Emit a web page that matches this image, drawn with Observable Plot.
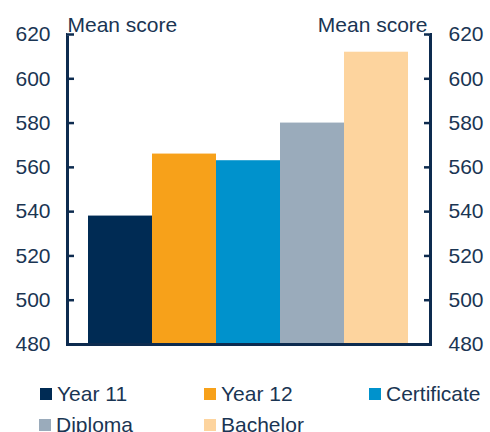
<!DOCTYPE html>
<html>
<head>
<meta charset="utf-8">
<script src="https://cdn.jsdelivr.net/npm/d3@7"></script>
<script src="https://cdn.jsdelivr.net/npm/@observablehq/plot@0.6"></script>
<style>
  body { margin: 0; background: #fff; }
  #wrap { position: relative; width: 490px; height: 432px; overflow: hidden; font-family: "Liberation Sans", Arial, sans-serif; color: #1a3553; }
  .leg { position: absolute; display: flex; align-items: center; font-size: 21px; line-height: 24px; white-space: nowrap; }
  .sw { width: 12px; height: 12px; margin-right: 5px; }
</style>
</head>
<body>
<div id="wrap"></div>
<script>
const categories = ["Year 11", "Year 12", "Certificate", "Diploma", "Bachelor"];
const values = [538, 566, 563, 580, 612];
const colors = ["#002b54", "#f7a11a", "#0092cc", "#9aabbb", "#fdd49e"];
const yTicks = [480, 500, 520, 540, 560, 580, 600, 620];
const axisTitle = "Mean score";

const data = categories.map((c, i) => ({cat: c, value: values[i]}));
const axisColor = "#0d2b4f";
const textColor = "#1a3553";
const yMin = yTicks[0], yMax = yTicks[yTicks.length - 1];

const chart = Plot.plot({
  width: 490,
  height: 360,
  marginLeft: 67,
  marginRight: 60,
  marginTop: 34,
  marginBottom: 16,
  style: {fontFamily: "'Liberation Sans', Arial, sans-serif", fontSize: "21px", color: textColor, background: "#fff"},
  x: {domain: categories, padding: 0, insetLeft: 21, insetRight: 22, axis: null},
  y: {domain: [yMin, yMax], axis: null},
  color: {domain: categories, range: colors},
  marks: [
    Plot.barY(data, {x: "cat", y1: () => yMin, y2: "value", fill: "cat"}),
    Plot.frame({stroke: axisColor, strokeWidth: 3}),
    Plot.ruleY([yMax], {stroke: "#fff", strokeWidth: 4, insetLeft: 2, insetRight: 2}),
    Plot.ruleY([yMax], {stroke: "#fff", strokeWidth: 4, dy: -1}),
    Plot.axisY(yTicks, {anchor: "left", tickSize: -7, tickFormat: () => "", label: null, stroke: axisColor, strokeWidth: 2.5}),
    Plot.axisY(yTicks, {anchor: "right", tickSize: -7, tickFormat: () => "", label: null, stroke: axisColor, strokeWidth: 2.5}),
    Plot.axisY(yTicks, {anchor: "left", tickSize: 0, tickPadding: 17, fontSize: 21, fill: textColor, label: null}),
    Plot.axisY(yTicks, {anchor: "right", tickSize: 0, tickPadding: 18, fontSize: 21, fill: textColor, label: null}),
    Plot.text([axisTitle], {frameAnchor: "top-left", textAnchor: "start", lineAnchor: "bottom", dy: -3, fontSize: 21, fill: textColor}),
    Plot.text([axisTitle], {frameAnchor: "top-right", textAnchor: "end", lineAnchor: "bottom", dx: -3, dy: -3, fontSize: 21, fill: textColor})
  ]
});
const wrap = document.getElementById("wrap");
wrap.appendChild(chart);

const legPos = [[40, 382], [204, 382], [369, 382], [39, 413], [204, 413]];
categories.forEach((c, i) => {
  const d = document.createElement("div");
  d.className = "leg";
  d.style.left = legPos[i][0] + "px";
  d.style.top = legPos[i][1] + "px";
  d.innerHTML = `<div class="sw" style="background:${colors[i]}"></div><span>${c}</span>`;
  wrap.appendChild(d);
});
</script>
</body>
</html>
